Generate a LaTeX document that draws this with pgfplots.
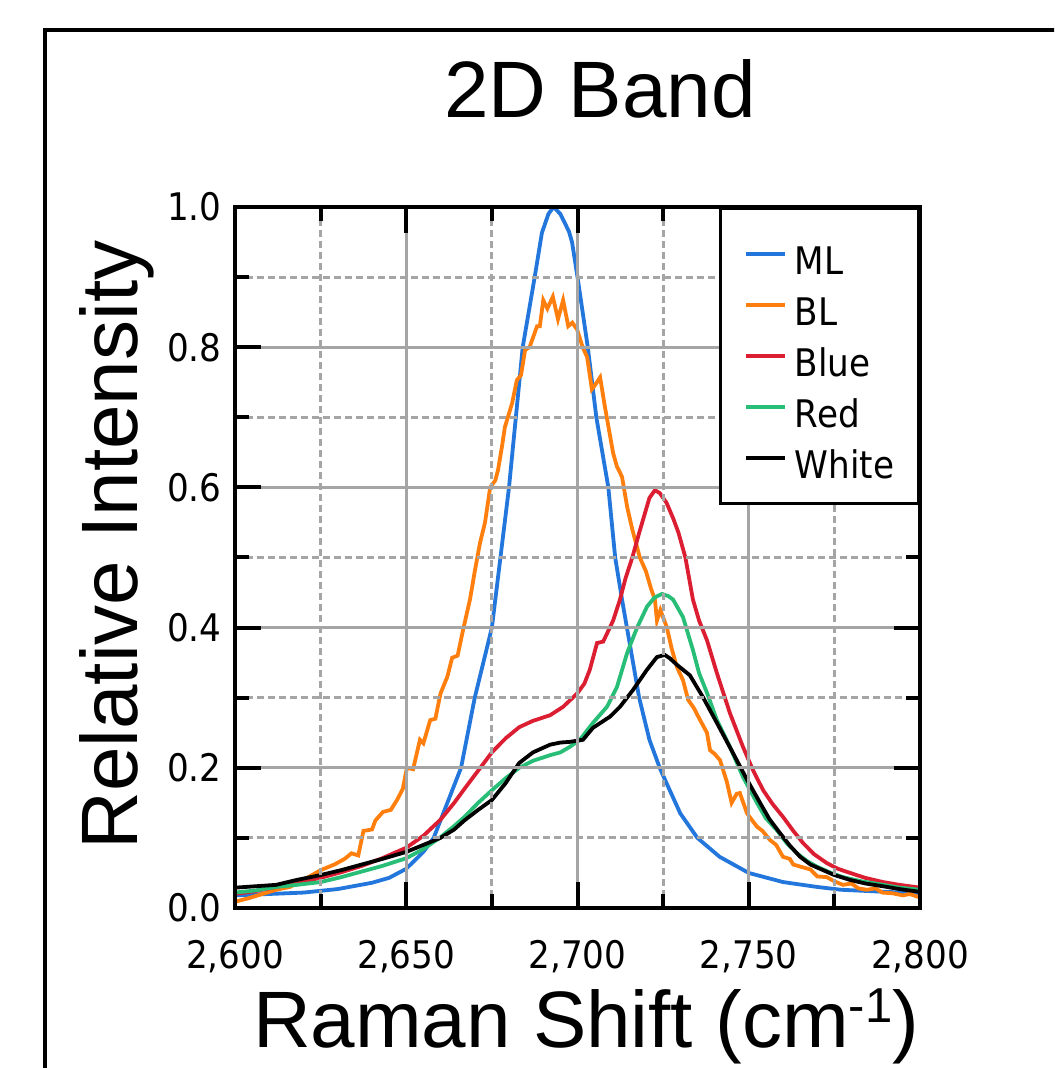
\documentclass[border=0pt]{standalone}
\usepackage{fontspec}
\setmainfont{Liberation Sans}
\newfontfamily\tickfont{DejaVu Sans Condensed}
\usepackage{pgfplots}
\pgfplotsset{compat=1.18}
\definecolor{cML}{RGB}{34,118,220}
\definecolor{cBL}{RGB}{255,127,14}
\definecolor{cBlue}{RGB}{220,30,50}
\definecolor{cRed}{RGB}{40,190,120}
\definecolor{gridgray}{RGB}{165,165,165}
\begin{document}
\begin{tikzpicture}
\useasboundingbox (-117.5pt,-80pt) rectangle (409.5pt,454pt);
\clip (-117.5pt,-80pt) rectangle (409.5pt,454pt);
\draw[line width=1.6pt] (-95pt,439pt) rectangle (600pt,-300pt);
\begin{axis}[
  scale only axis, width=342.5pt, height=350.5pt,
  xmin=2600, xmax=2800, ymin=0, ymax=1,
  xtick={2600,2650,2700,2750,2800},
  ytick={0,0.2,0.4,0.6,0.8,1},
  minor tick num=1,
  grid=both,
  major grid style={line width=1.5pt, draw=gridgray},
  minor grid style={line width=1.5pt, draw=gridgray, dash pattern=on 3.5pt off 2pt},
  tick align=inside, tickpos=both,
  major tick length=13pt, minor tick length=7pt,
  major tick style={draw=black, line width=2pt},
  minor tick style={draw=black, line width=2pt},
  axis line style={line width=2pt},
  axis on top,
  /pgf/number format/assume math mode=true,
  ticklabel style={font=\tickfont\fontsize{19}{22}\selectfont},
  xticklabel style={inner sep=0pt, yshift=-16pt, /pgf/number format/1000 sep={,}},
  yticklabel style={inner sep=0pt, xshift=-6.5pt, /pgf/number format/.cd, fixed, fixed zerofill, precision=1},
  scaled ticks=false,
  legend cell align=left,
  legend style={at={(1,1)}, anchor=north east, draw=black, line width=1.6pt, fill=white,
    font=\tickfont\fontsize{19}{22}\selectfont, inner xsep=12pt, inner ysep=12.5pt,
    row sep=5pt, column sep=4pt,
    nodes={inner sep=0pt, text height=20.5pt, text depth=0pt}},
  legend image code/.code={\draw[#1] (0pt,0pt) -- (19.5pt,0pt);},
]
\addplot[cML, line width=1.9pt] coordinates {
(2600,0.018) (2610,0.020) (2620,0.022) (2630,0.027) (2640,0.036) (2645,0.043)
(2650,0.056) (2655,0.080) (2658,0.10) (2662,0.15) (2666,0.20) (2670,0.30)
(2675,0.40) (2677.5,0.50) (2680,0.60) (2682,0.70) (2684,0.80) (2687.5,0.90)
(2689.6,0.963) (2691.5,0.99) (2693,1.00) (2695,0.99) (2697.5,0.965) (2698.4,0.95) (2700,0.90)
(2703,0.80) (2705.5,0.70) (2709,0.60) (2711,0.50) (2713,0.44) (2715.5,0.37)
(2718,0.30) (2721,0.24) (2724,0.20) (2726,0.178) (2730,0.135) (2735,0.10)
(2741.5,0.073) (2750,0.05) (2760,0.037) (2770,0.030) (2777,0.026) (2790,0.023) (2800,0.021)
};
\addlegendentry{ML}
\addplot[cBL, line width=1.9pt] coordinates {
(2600,0.009) (2604,0.014) (2608,0.020) (2612,0.026) (2616,0.030) (2620,0.040)
(2625,0.054) (2629,0.062) (2632,0.070) (2634,0.078) (2636,0.075) (2637.5,0.11)
(2640,0.112) (2641,0.125) (2643.2,0.137) (2645.5,0.14) (2647.3,0.154) (2649,0.17)
(2650.2,0.20) (2652,0.198) (2654,0.24) (2655,0.235) (2657,0.268) (2658.5,0.27)
(2660,0.306) (2662,0.33) (2663.4,0.357) (2665,0.36) (2666.6,0.397) (2668.6,0.44)
(2670,0.48) (2671.5,0.52) (2673,0.55) (2674.5,0.60) (2676,0.61) (2676.8,0.625)
(2678,0.66) (2678.8,0.686) (2680.9,0.72) (2682.3,0.753) (2683.5,0.76) (2684.7,0.796)
(2686,0.80) (2688.2,0.83) (2689,0.83) (2690,0.867) (2691.2,0.855) (2692.8,0.872)
(2694.3,0.84) (2695.8,0.867) (2697.3,0.83) (2698.5,0.835) (2699.9,0.825) (2701.5,0.80)
(2702.8,0.786) (2704.2,0.74) (2705,0.745) (2706.6,0.757) (2708,0.715) (2710.4,0.649)
(2711.5,0.63) (2713,0.615) (2714.5,0.572) (2716,0.54) (2718.2,0.50) (2720,0.48)
(2721.5,0.455) (2722.6,0.44) (2723.2,0.41) (2724.2,0.425) (2726.1,0.40) (2727.5,0.37)
(2729,0.344) (2730.8,0.325) (2732.3,0.297) (2734,0.285) (2735.8,0.268) (2737.8,0.25)
(2738.7,0.225) (2740,0.22) (2741.6,0.211) (2743.6,0.18) (2745,0.15) (2746.5,0.163)
(2747.4,0.164) (2749.5,0.135) (2751,0.125) (2752.4,0.116) (2754,0.11) (2756.2,0.097)
(2758,0.09) (2760,0.073) (2762,0.07) (2763,0.062) (2765.8,0.058) (2768,0.055)
(2770,0.045) (2772.8,0.044) (2775,0.038) (2777.5,0.033) (2780,0.035) (2782,0.028)
(2784.5,0.026) (2787,0.028) (2789,0.022) (2792,0.021) (2795,0.018) (2797,0.020) (2800,0.015)
};
\addlegendentry{BL}
\addplot[cBlue, line width=1.9pt] coordinates {
(2600,0.020) (2606,0.024) (2612,0.030) (2618,0.036) (2625,0.043) (2631,0.051)
(2637,0.060) (2643,0.071) (2650,0.086) (2655,0.103) (2660,0.126) (2664,0.150)
(2667,0.170) (2671,0.196) (2675,0.222) (2679,0.242) (2683,0.258) (2687,0.267)
(2692,0.275) (2695.8,0.287) (2699.9,0.306) (2702,0.32) (2703.6,0.34) (2705.7,0.378)
(2707.5,0.380) (2710.4,0.41) (2712.4,0.44) (2714,0.47) (2716,0.50) (2718,0.535)
(2719.5,0.56) (2721,0.585) (2722.6,0.596) (2724,0.592) (2726,0.578) (2728,0.555)
(2729.5,0.535) (2731.5,0.50) (2733.7,0.44) (2735.5,0.41) (2737.8,0.382) (2740.7,0.335)
(2744.5,0.278) (2748.3,0.23) (2751.2,0.197) (2754.2,0.168) (2757,0.148) (2760,0.13)
(2763,0.11) (2765.8,0.093) (2769,0.077) (2772.8,0.064) (2776,0.056) (2779.6,0.05)
(2784,0.043) (2789.2,0.037) (2794,0.033) (2800,0.029)
};
\addlegendentry{Blue}
\addplot[cRed, line width=1.9pt] coordinates {
(2600,0.022) (2606,0.025) (2612,0.030) (2618,0.033) (2625,0.037) (2631,0.044)
(2637,0.052) (2643,0.060) (2650,0.071) (2655,0.084) (2660,0.101) (2664,0.117)
(2667,0.130) (2671,0.150) (2675,0.168) (2679,0.185) (2683,0.200) (2687,0.210)
(2692,0.218) (2695,0.222) (2697.8,0.23) (2700.7,0.24) (2704.5,0.264) (2708.6,0.287)
(2711.5,0.315) (2714.5,0.364) (2717.4,0.40) (2720.3,0.43) (2722.5,0.443) (2724.7,0.448)
(2726.5,0.445) (2727.9,0.44) (2730.8,0.415) (2733.7,0.368) (2735.5,0.335) (2737.8,0.307)
(2740.7,0.268) (2744.5,0.23) (2748.3,0.187) (2752.4,0.15) (2755,0.128) (2758.2,0.111)
(2761,0.093) (2764.1,0.078) (2767,0.067) (2769.9,0.059) (2774,0.05) (2777.5,0.044)
(2783,0.038) (2789.2,0.033) (2794,0.029) (2800,0.026)
};
\addlegendentry{Red}
\addplot[black, line width=1.9pt] coordinates {
(2600,0.029) (2606,0.031) (2612,0.033) (2618,0.040) (2625,0.047) (2631,0.054)
(2637,0.062) (2643,0.070) (2650,0.080) (2655,0.090) (2660,0.100) (2664,0.112)
(2667,0.125) (2671,0.140) (2675,0.154) (2679,0.178) (2683,0.207) (2687,0.222)
(2692,0.233) (2695,0.236) (2697.8,0.237) (2701.6,0.24) (2704.5,0.257) (2707,0.265)
(2709.5,0.273) (2712.4,0.287) (2716.2,0.311) (2720.3,0.34) (2723.2,0.358) (2725.5,0.361)
(2727,0.356) (2729,0.347) (2732.8,0.332) (2736.6,0.301) (2740.7,0.264) (2745.4,0.221)
(2749.5,0.183) (2753.3,0.15) (2756,0.127) (2759.1,0.107) (2762,0.089) (2765,0.073)
(2768,0.062) (2771.7,0.054) (2775,0.047) (2779.6,0.04) (2784,0.035) (2789.2,0.031)
(2794,0.027) (2800,0.023)
};
\addlegendentry{White}
\end{axis}
\node[anchor=base, font=\fontsize{40}{48}\selectfont] at (182.5pt,395pt) {2D Band};
\node[anchor=base, font=\fontsize{40}{48}\selectfont] at (175.5pt,-69.5pt) {Raman Shift (cm\raisebox{12.5pt}{\fontsize{24.5}{25}\selectfont -1})};
\node[rotate=90, anchor=base, font=\fontsize{40}{48}\selectfont] at (-49pt,181.5pt) {Relative Intensity};
\end{tikzpicture}
\end{document}
